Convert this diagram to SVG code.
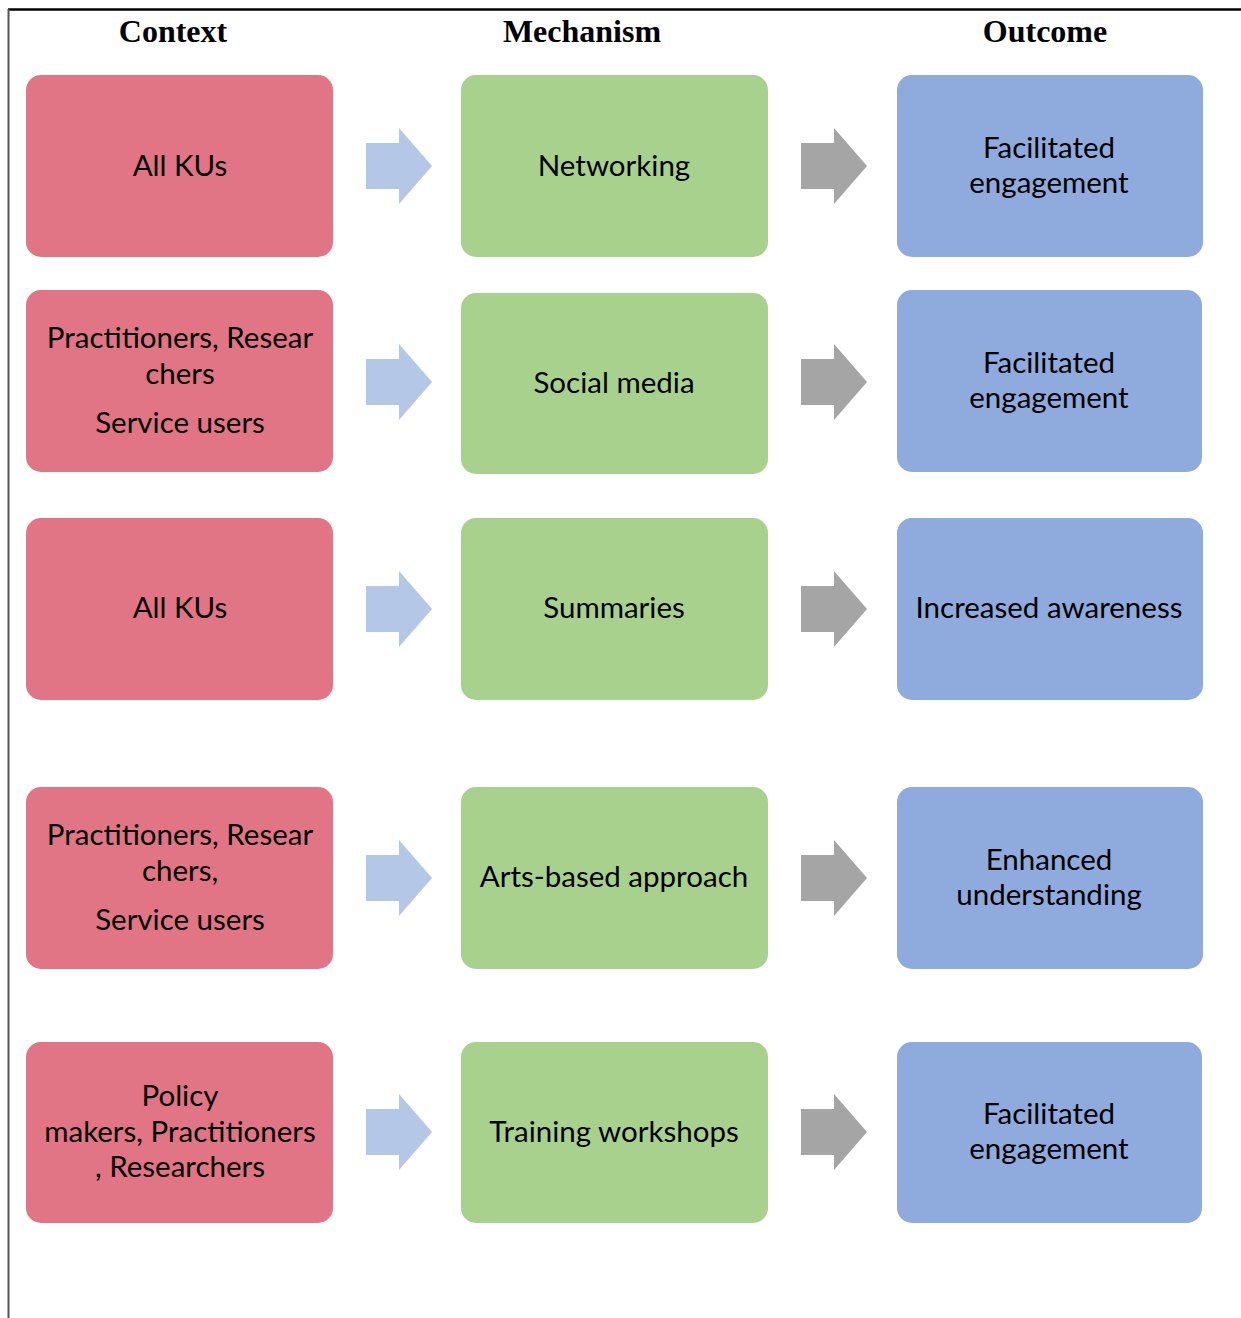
<svg xmlns="http://www.w3.org/2000/svg" width="1241" height="1318" viewBox="0 0 1241 1318">
  <style>
    .hdr { font-family: "Liberation Serif", "Times New Roman", serif; font-weight: bold; font-size: 32px; fill: #000; text-anchor: middle; }
    .lbl { font-family: Lato, "Liberation Sans", sans-serif; font-size: 29.5px; fill: #000; text-anchor: middle; dominant-baseline: central; }
    .ctx { fill: #E27585; }
    .mech { fill: #A9D18E; }
    .out { fill: #8FAADC; }
    .a1 { fill: #B4C7E7; }
    .a2 { fill: #A5A5A5; }
  </style>
  <defs>
    <!-- block arrow, centred vertically on y=0 -->
    <path id="blk" d="M0,-23 H33 V-38 L66,0 L33,38 V23 H0 Z"/>
  </defs>
  <rect width="1241" height="1318" fill="#fff"/>
  <!-- frame -->
  <line x1="8" y1="9.5" x2="1241" y2="9.5" stroke="#000" stroke-width="2.5"/>
  <line x1="8.5" y1="9" x2="8.5" y2="1318" stroke="#555" stroke-width="2"/>

  <!-- column headings -->
  <text class="hdr" x="173" y="42">Context</text>
  <text class="hdr" x="582" y="42">Mechanism</text>
  <text class="hdr" x="1045" y="42">Outcome</text>

  <!-- row 1 -->
  <g id="c1"><rect class="ctx" x="26" y="75" width="307" height="182" rx="15"/><text class="lbl" x="180" y="164">All KUs</text></g>
  <g id="m1"><rect class="mech" x="461" y="75" width="307" height="182" rx="15"/><text class="lbl" x="614" y="164">Networking</text></g>
  <g id="o1"><rect class="out" x="897" y="75" width="306" height="182" rx="15"/><text class="lbl" x="1049" y="146">Facilitated</text><text class="lbl" x="1049" y="181">engagement</text></g>

  <!-- row 2 -->
  <g id="c2"><rect class="ctx" x="26" y="290" width="307" height="182" rx="15"/><text class="lbl" x="180" y="336">Practitioners, Resear</text><text class="lbl" x="180" y="372">chers</text><text class="lbl" x="180" y="421">Service users</text></g>
  <g id="m2"><rect class="mech" x="461" y="293" width="307" height="181" rx="15"/><text class="lbl" x="614" y="381">Social media</text></g>
  <g id="o2"><rect class="out" x="897" y="290" width="305" height="182" rx="15"/><text class="lbl" x="1049" y="361">Facilitated</text><text class="lbl" x="1049" y="396">engagement</text></g>

  <!-- row 3 -->
  <g id="c3"><rect class="ctx" x="26" y="518" width="307" height="182" rx="15"/><text class="lbl" x="180" y="606">All KUs</text></g>
  <g id="m3"><rect class="mech" x="461" y="518" width="307" height="182" rx="15"/><text class="lbl" x="614" y="606">Summaries</text></g>
  <g id="o3"><rect class="out" x="897" y="518" width="306" height="182" rx="15"/><text class="lbl" x="1049" y="606">Increased awareness</text></g>

  <!-- row 4 -->
  <g id="c4"><rect class="ctx" x="26" y="787" width="307" height="182" rx="15"/><text class="lbl" x="180" y="833">Practitioners, Resear</text><text class="lbl" x="180" y="869">chers,</text><text class="lbl" x="180" y="918">Service users</text></g>
  <g id="m4"><rect class="mech" x="461" y="787" width="307" height="182" rx="15"/><text class="lbl" x="614" y="875">Arts-based approach</text></g>
  <g id="o4"><rect class="out" x="897" y="787" width="306" height="182" rx="15"/><text class="lbl" x="1049" y="858">Enhanced</text><text class="lbl" x="1049" y="893">understanding</text></g>

  <!-- row 5 -->
  <g id="c5"><rect class="ctx" x="26" y="1042" width="307" height="181" rx="15"/><text class="lbl" x="180" y="1094">Policy</text><text class="lbl" x="180" y="1130">makers, Practitioners</text><text class="lbl" x="180" y="1165">, Researchers</text></g>
  <g id="m5"><rect class="mech" x="461" y="1042" width="307" height="181" rx="15"/><text class="lbl" x="614" y="1130">Training workshops</text></g>
  <g id="o5"><rect class="out" x="897" y="1042" width="305" height="181" rx="15"/><text class="lbl" x="1049" y="1112">Facilitated</text><text class="lbl" x="1049" y="1147">engagement</text></g>

  <!-- connectors -->
  <g id="connectors">
    <use href="#blk" class="a1" x="366" y="166"/>
    <use href="#blk" class="a2" x="801" y="166"/>
    <use href="#blk" class="a1" x="366" y="382"/>
    <use href="#blk" class="a2" x="801" y="382"/>
    <use href="#blk" class="a1" x="366" y="609"/>
    <use href="#blk" class="a2" x="801" y="609"/>
    <use href="#blk" class="a1" x="366" y="878"/>
    <use href="#blk" class="a2" x="801" y="878"/>
    <use href="#blk" class="a1" x="366" y="1132"/>
    <use href="#blk" class="a2" x="801" y="1132"/>
  </g>
</svg>
